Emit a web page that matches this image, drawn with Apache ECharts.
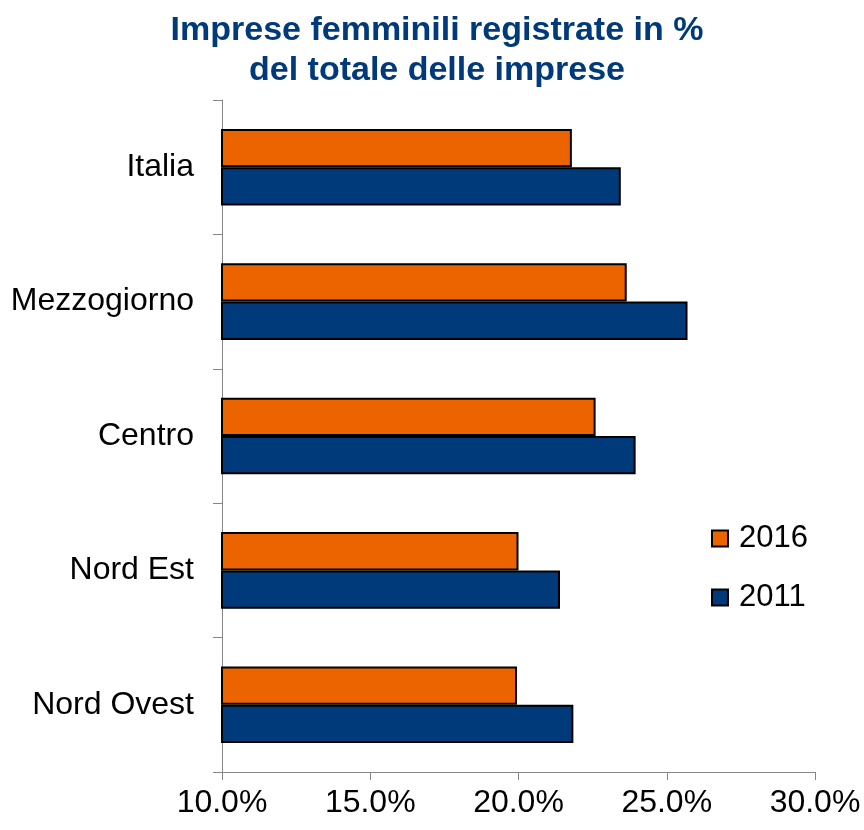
<!DOCTYPE html>
<html>
<head>
<meta charset="utf-8">
<style>html,body{margin:0;padding:0;background:#fff}#c{width:864px;height:830px}</style>
<script src="https://cdn.jsdelivr.net/npm/echarts@6/dist/echarts.min.js"></script>
</head>
<body>
<div id="c"></div>
<script>
const categories = ['Nord Ovest', 'Nord Est', 'Centro', 'Mezzogiorno', 'Italia'];
const values2016 = [19.95, 20.0, 22.6, 23.65, 21.8];
const values2011 = [21.85, 21.4, 23.95, 25.7, 23.45];
const xTicks = { min: 10, max: 30, interval: 5 };

const chart = echarts.init(document.getElementById('c'));
const font = 'Liberation Sans, Arial, sans-serif';
chart.setOption({
  animation: false,
  title: {
    text: 'Imprese femminili registrate in %\ndel totale delle imprese',
    left: 432, top: 6, textAlign: 'center',
    textStyle: { fontFamily: font, fontSize: 34, fontWeight: 'bold', color: '#003A7A', lineHeight: 40 }
  },
  legend: {
    orient: 'vertical', left: 711, top: 523, padding: 0,
    data: ['2016', '2011'],
    itemWidth: 16, itemHeight: 16, itemGap: 28,
    icon: 'rect',
    textStyle: { fontFamily: font, fontSize: 31, color: '#000', lineHeight: 31, padding: [0, 0, 0, 6] }
  },
  grid: { left: 222, right: 49, top: 100, bottom: 58, containLabel: false },
  xAxis: {
    type: 'value', min: xTicks.min, max: xTicks.max, interval: xTicks.interval,
    axisLine: { show: true, lineStyle: { color: '#868686', width: 1 } },
    axisTick: { show: true, length: 8, lineStyle: { color: '#868686' } },
    splitLine: { show: false },
    axisLabel: { fontFamily: font, fontSize: 32, color: '#000', margin: 15, formatter: v => v.toFixed(1) + '%' }
  },
  yAxis: {
    type: 'category', data: categories,
    axisLine: { show: true, lineStyle: { color: '#868686', width: 1 } },
    axisTick: { show: true, length: 9, lineStyle: { color: '#868686' } },
    axisLabel: { fontFamily: font, fontSize: 32, color: '#000', margin: 28 }
  },
  series: [
    { name: '2016', type: 'bar', data: values2016, barGap: '0%', barCategoryGap: '43%',
      itemStyle: { color: '#EC6400', borderColor: '#000', borderWidth: 2 } },
    { name: '2011', type: 'bar', data: values2011, barGap: '0%', barCategoryGap: '43%',
      itemStyle: { color: '#003A7A', borderColor: '#000', borderWidth: 2 } }
  ]
});
</script>
</body>
</html>
